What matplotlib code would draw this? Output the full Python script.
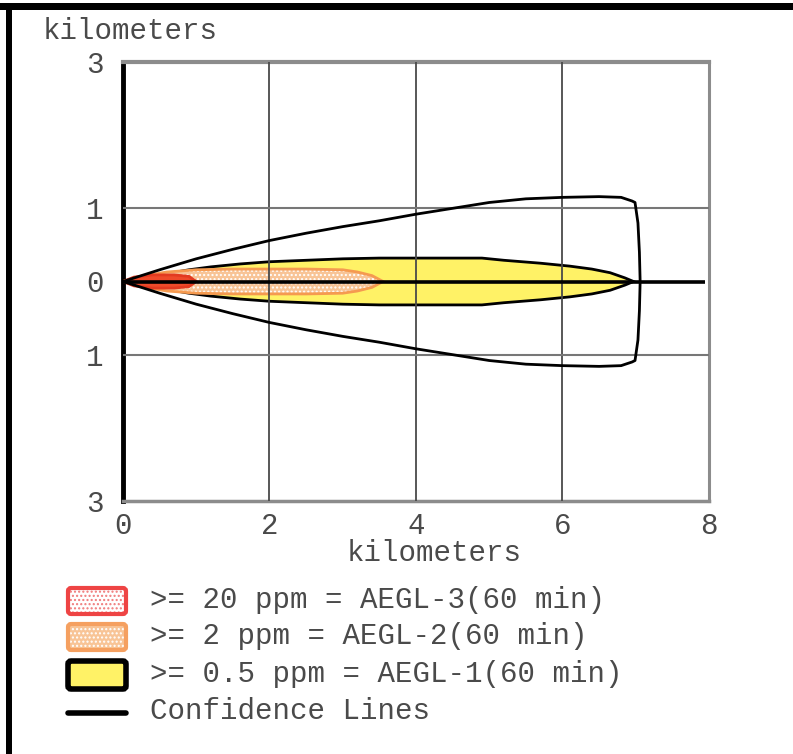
import numpy as np
import matplotlib
matplotlib.use("Agg")
import matplotlib.pyplot as plt
from matplotlib.patches import Polygon, FancyBboxPatch, Rectangle
from matplotlib.lines import Line2D

# ---- plume footprint data (downwind distance km, crosswind half-width km) ----
aegl3_dist = [0.0, 0.15, 0.4, 0.7, 0.9, 1.0]
aegl3_half = [0.0, 0.06, 0.09, 0.09, 0.07, 0.0]

aegl2_dist = [0.0, 0.3, 0.6, 1.0, 1.5, 2.0, 2.5, 3.0, 3.2, 3.4, 3.55]
aegl2_half = [0.0, 0.08, 0.13, 0.16, 0.17, 0.17, 0.17, 0.16, 0.13, 0.08, 0.0]

aegl1_dist = [0.0, 0.5, 0.9, 1.2, 1.6, 2.0, 2.5, 3.0, 3.5, 4.0, 4.5, 4.9,
              5.2, 5.7, 6.1, 6.4, 6.65, 6.85, 6.97]
aegl1_half = [0.0, 0.09, 0.16, 0.20, 0.24, 0.27, 0.29, 0.31, 0.32, 0.32, 0.32, 0.32,
              0.29, 0.25, 0.21, 0.17, 0.12, 0.05, 0.0]

conf_dist = [0.0, 0.5, 1.0, 1.5, 2.0, 2.5, 3.0, 3.5, 4.0, 4.5, 5.0, 5.5,
             6.0, 6.5, 6.8, 6.95]
conf_half = [0.0, 0.16, 0.31, 0.44, 0.56, 0.66, 0.75, 0.83, 0.92, 1.00, 1.08, 1.13,
             1.15, 1.16, 1.15, 1.10]
# end cap of the confidence envelope (downwind km vs crosswind km)
cap_dist = [6.99, 7.03, 7.05, 7.06, 7.05, 7.03, 6.99]
cap_cross = [1.08, 0.8, 0.4, 0.0, -0.4, -0.8, -1.08]

centerline_end = 7.95

x_ticks = [0, 2, 4, 6, 8]
x_tick_labels = ["0", "2", "4", "6", "8"]
y_ticks = [3, 1, 0, -1, -3]
y_tick_labels = ["3", "1", "0", "1", "3"]

legend_labels = [">= 20 ppm = AEGL-3(60 min)",
                 ">= 2 ppm = AEGL-2(60 min)",
                 ">= 0.5 ppm = AEGL-1(60 min)",
                 "Confidence Lines"]

FONT = "Liberation Mono"
TXT = "#4a4a4a"
FS = 21

W, H = 793, 754
fig = plt.figure(figsize=(W / 100, H / 100), dpi=100)
fig.patch.set_facecolor("white")


def fx(px):
    return px / W


def fy(py):
    return 1 - py / H


ax = fig.add_axes([fx(123), fy(501), 586 / W, 439 / H])
ax.set_xlim(0, 8)
ax.set_ylim(-3, 3)


def zone(dist, half):
    d = np.asarray(dist)
    h = np.asarray(half)
    xs = np.concatenate([d, d[::-1]])
    ys = np.concatenate([h, -h[::-1]])
    return np.column_stack([xs, ys])


# AEGL-1 (yellow)
ax.add_patch(Polygon(zone(aegl1_dist, aegl1_half), closed=True,
                     facecolor="#FFF266", edgecolor="black", lw=2.0, zorder=2))
# AEGL-2 (orange, dotted)
ax.add_patch(Polygon(zone(aegl2_dist, aegl2_half), closed=True,
                     facecolor="#F8C496", edgecolor="white", hatch="....", lw=0, zorder=3))
ax.add_patch(Polygon(zone(aegl2_dist, aegl2_half), closed=True,
                     facecolor="none", edgecolor="#F59A50", lw=2.0, zorder=3.1))
# AEGL-3 (red)
ax.add_patch(Polygon(zone(aegl3_dist, aegl3_half), closed=True,
                     facecolor="#EE4A2A", edgecolor="#E23A20", lw=2.0, zorder=4))

# grid
for gx in [2, 4, 6]:
    ax.axvline(gx, color="#4a4a4a", lw=1.3, zorder=5)
for gy in [1, -1]:
    ax.axhline(gy, color="#777777", lw=1.5, zorder=5)

# centerline
ax.plot([0, centerline_end], [0, 0], color="black", lw=2.6, zorder=6,
        solid_capstyle="butt")

# confidence envelope
cd = np.asarray(conf_dist)
ch = np.asarray(conf_half)
env_x = np.concatenate([cd, cap_dist, cd[::-1]])
env_y = np.concatenate([ch, cap_cross, -ch[::-1]])
ax.plot(env_x, env_y, color="black", lw=2.0, zorder=7, solid_joinstyle="round")

# spines
for s in ["top", "bottom", "right"]:
    ax.spines[s].set_color("#8c8c8c")
ax.spines["top"].set_linewidth(3.0)
ax.spines["bottom"].set_linewidth(2.5)
ax.spines["right"].set_linewidth(2.2)
ax.spines["left"].set_color("black")
ax.spines["left"].set_linewidth(3.5)

ax.set_xticks(x_ticks)
ax.set_xticklabels(x_tick_labels)
ax.set_yticks(y_ticks)
ax.set_yticklabels(y_tick_labels)
ax.tick_params(length=0, labelsize=FS, labelcolor=TXT, pad=14)
ax.tick_params(axis="x", pad=8)
for lab in ax.get_xticklabels() + ax.get_yticklabels():
    lab.set_fontfamily(FONT)

fig.text(fx(130), fy(31), "kilometers", ha="center", va="center",
         fontsize=FS, family=FONT, color=TXT)
fig.text(fx(434), fy(553), "kilometers", ha="center", va="center",
         fontsize=FS, family=FONT, color=TXT)

# legend
sw_x0, sw_w = 68, 58
rows = [(588, 614), (624, 650), (661, 689)]
styles = [
    dict(face="white", hatch_col="#F07A7A", edge="#EE4444", lw=3.0),
    dict(face="#F8C496", hatch_col="white", edge="#F5A060", lw=3.0),
    dict(face="#FFF266", hatch_col=None, edge="black", lw=4.0),
]
for (y0, y1), st in zip(rows, styles):
    box = dict(boxstyle="round,pad=0,rounding_size=0.004")
    base = FancyBboxPatch((fx(sw_x0), fy(y1)), sw_w / W, (y1 - y0) / H,
                          transform=fig.transFigure, facecolor=st["face"],
                          edgecolor=st["hatch_col"] or st["edge"],
                          hatch="...." if st["hatch_col"] else None,
                          lw=0, **box)
    fig.add_artist(base)
    fig.add_artist(FancyBboxPatch((fx(sw_x0), fy(y1)), sw_w / W, (y1 - y0) / H,
                                  transform=fig.transFigure, facecolor="none",
                                  edgecolor=st["edge"], lw=st["lw"], **box))
fig.add_artist(Line2D([fx(68), fx(126)], [fy(713), fy(713)],
                      transform=fig.transFigure, color="black", lw=4,
                      solid_capstyle="round"))

text_y = [600, 636, 674, 711]
for lbl, ty in zip(legend_labels, text_y):
    fig.text(fx(150), fy(ty), lbl, ha="left", va="center",
             fontsize=FS, family=FONT, color=TXT)

# outer frame bars
fig.add_artist(Rectangle((0, fy(10)), 1, 7 / H, transform=fig.transFigure,
                         facecolor="black", edgecolor="none"))
fig.add_artist(Rectangle((fx(6), 0), 6 / W, fy(3), transform=fig.transFigure,
                         facecolor="black", edgecolor="none"))

fig.savefig("out.png", dpi=100, facecolor="white")
